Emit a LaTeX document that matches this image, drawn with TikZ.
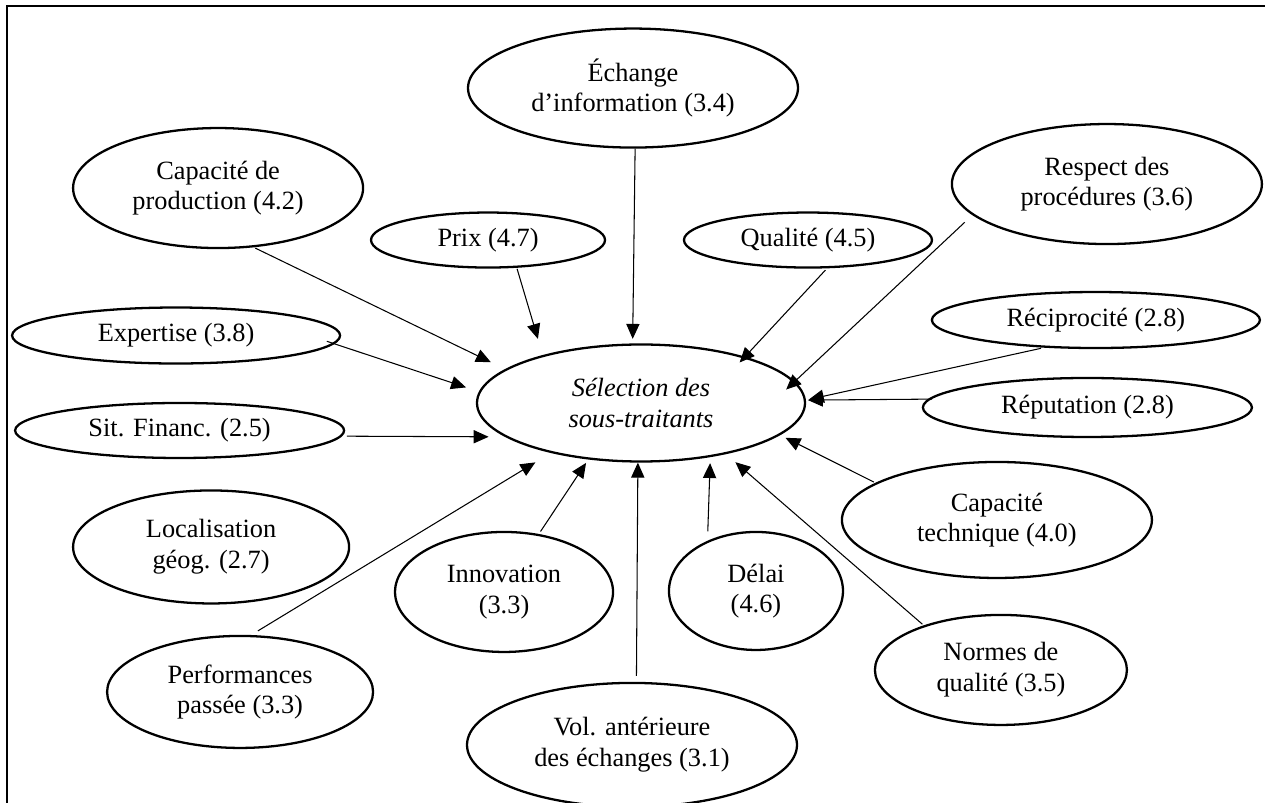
\documentclass[tikz,border=0pt]{standalone}
\usepackage{fontspec}
\setmainfont{Liberation Serif}
\usetikzlibrary{shapes.geometric, positioning, arrows.meta}

\newcommand\ovalfont{\fontsize{15}{17.4}\selectfont}

\tikzset{
  oval/.style 2 args={ellipse, draw, line width=1.3pt, inner sep=0pt, align=center,
    minimum width=#1*0.02cm, minimum height=#2*0.02cm},
  link/.style={-{Triangle[length=8.5pt,width=7.5pt]}, line width=0.6pt},
}

\begin{document}
\begin{tikzpicture}[x=0.02cm, y=-0.02cm, on grid, font=\ovalfont]
    \useasboundingbox (0,0) rectangle (1265,803);
    \draw[line width=1.1pt] (7,803) -- (7,6) -- (1265,6);

    \node[oval={328}{117}, font=\ovalfont\itshape] (sel) at (641,403) {Sélection des\\sous-traitants};
    \node[oval={330}{119}] (ech) [above left=6.30cm and 0.16cm of sel] {Échange\\d’information (3.4)};
    \node[oval={290}{120}] (prod) [above left=4.30cm and 8.46cm of sel] {Capacité de\\production (4.2)};
    \node[oval={310}{120}] (resp) [above right=4.38cm and 9.32cm of sel] {Respect des\\procédures (3.6)};
    \node[oval={234}{55}] (prix) [above left=3.26cm and 3.06cm of sel] {Prix (4.7)};
    \node[oval={248}{55}] (qual) [above right=3.26cm and 3.34cm of sel] {Qualité (4.5)};
    \node[oval={328}{56}] (exp) [above left=1.35cm and 9.30cm of sel] {Expertise (3.8)};
    \node[oval={328}{56}] (recip) [above right=1.66cm and 9.10cm of sel] {Réciprocité (2.8)};
    \node[oval={329}{59}] (rep) [below right=0.09cm and 8.93cm of sel] {Réputation (2.8)};
    \node[oval={329}{55}] (sit) [below left=0.55cm and 9.23cm of sel] {Sit. Financ. (2.5)};
    \node[oval={276}{113}] (loc) [below left=2.88cm and 8.60cm of sel] {Localisation\\géog. (2.7)};
    \node[oval={218}{120}] (innov) [below left=3.78cm and 2.74cm of sel] {Innovation\\(3.3)};
    \node[oval={174}{118}] (delai) [below right=3.76cm and 2.30cm of sel] {Délai\\(4.6)};
    \node[oval={310}{116}] (ctech) [below right=2.34cm and 7.12cm of sel] {Capacité\\technique (4.0)};
    \node[oval={266}{112}] (perf) [below left=5.78cm and 8.02cm of sel] {Performances\\passée (3.3)};
    \node[oval={330}{124}] (vol) [below left=6.84cm and 0.18cm of sel] {Vol. antérieure\\des échanges (3.1)};
    \node[oval={252}{110}] (normes) [below right=5.34cm and 7.20cm of sel] {Normes de\\qualité (3.5)};

    \path[link]
    (prod.-59) edge [shorten <=1pt, shorten >=9pt] (sel.166.4)
    (exp.-3.6) edge [shorten <=-4.5pt, shorten >=7.7pt] (sel.176.2)
    (sit.-2.1) edge [shorten <=2.8pt, shorten >=9.4pt] (sel.194.3)
    (prix.-44.8) edge [shorten <=0.6pt, shorten >=9.6pt] (sel.154.7)
    (ech.-88) edge [shorten >=2.6pt] (sel.98.8)
    (qual.-56.5) edge [shorten <=1.4pt, shorten >=-4.5pt] (sel.24)
    (resp.193.7) edge [shorten <=6pt, shorten >=-6.8pt] (sel.8.7)
    (recip.208.6) edge [shorten <=1.7pt, shorten >=1.7pt] (sel.1.6)
    (rep.177.5) edge [shorten <=-2.3pt, shorten >=1.1pt] (sel.1)
    (ctech.163) edge [shorten <=1pt, shorten >=3.4pt] (sel.-13.3)
    (normes.150.3) edge [shorten <=1pt, shorten >=7pt] (sel.-31.5)
    (delai.134.2) edge [shorten <=5.4pt, shorten >=3.4pt] (sel.-38)
    (vol.86.3) edge [shorten <=3.4pt] (sel.-93.9)
    (innov.59.1) edge [shorten <=1.7pt, shorten >=2.3pt] (sel.-133.2)
    (perf.79.4) edge [shorten <=4.5pt, shorten >=10.3pt] (sel.209.7);
\end{tikzpicture}
\end{document}
